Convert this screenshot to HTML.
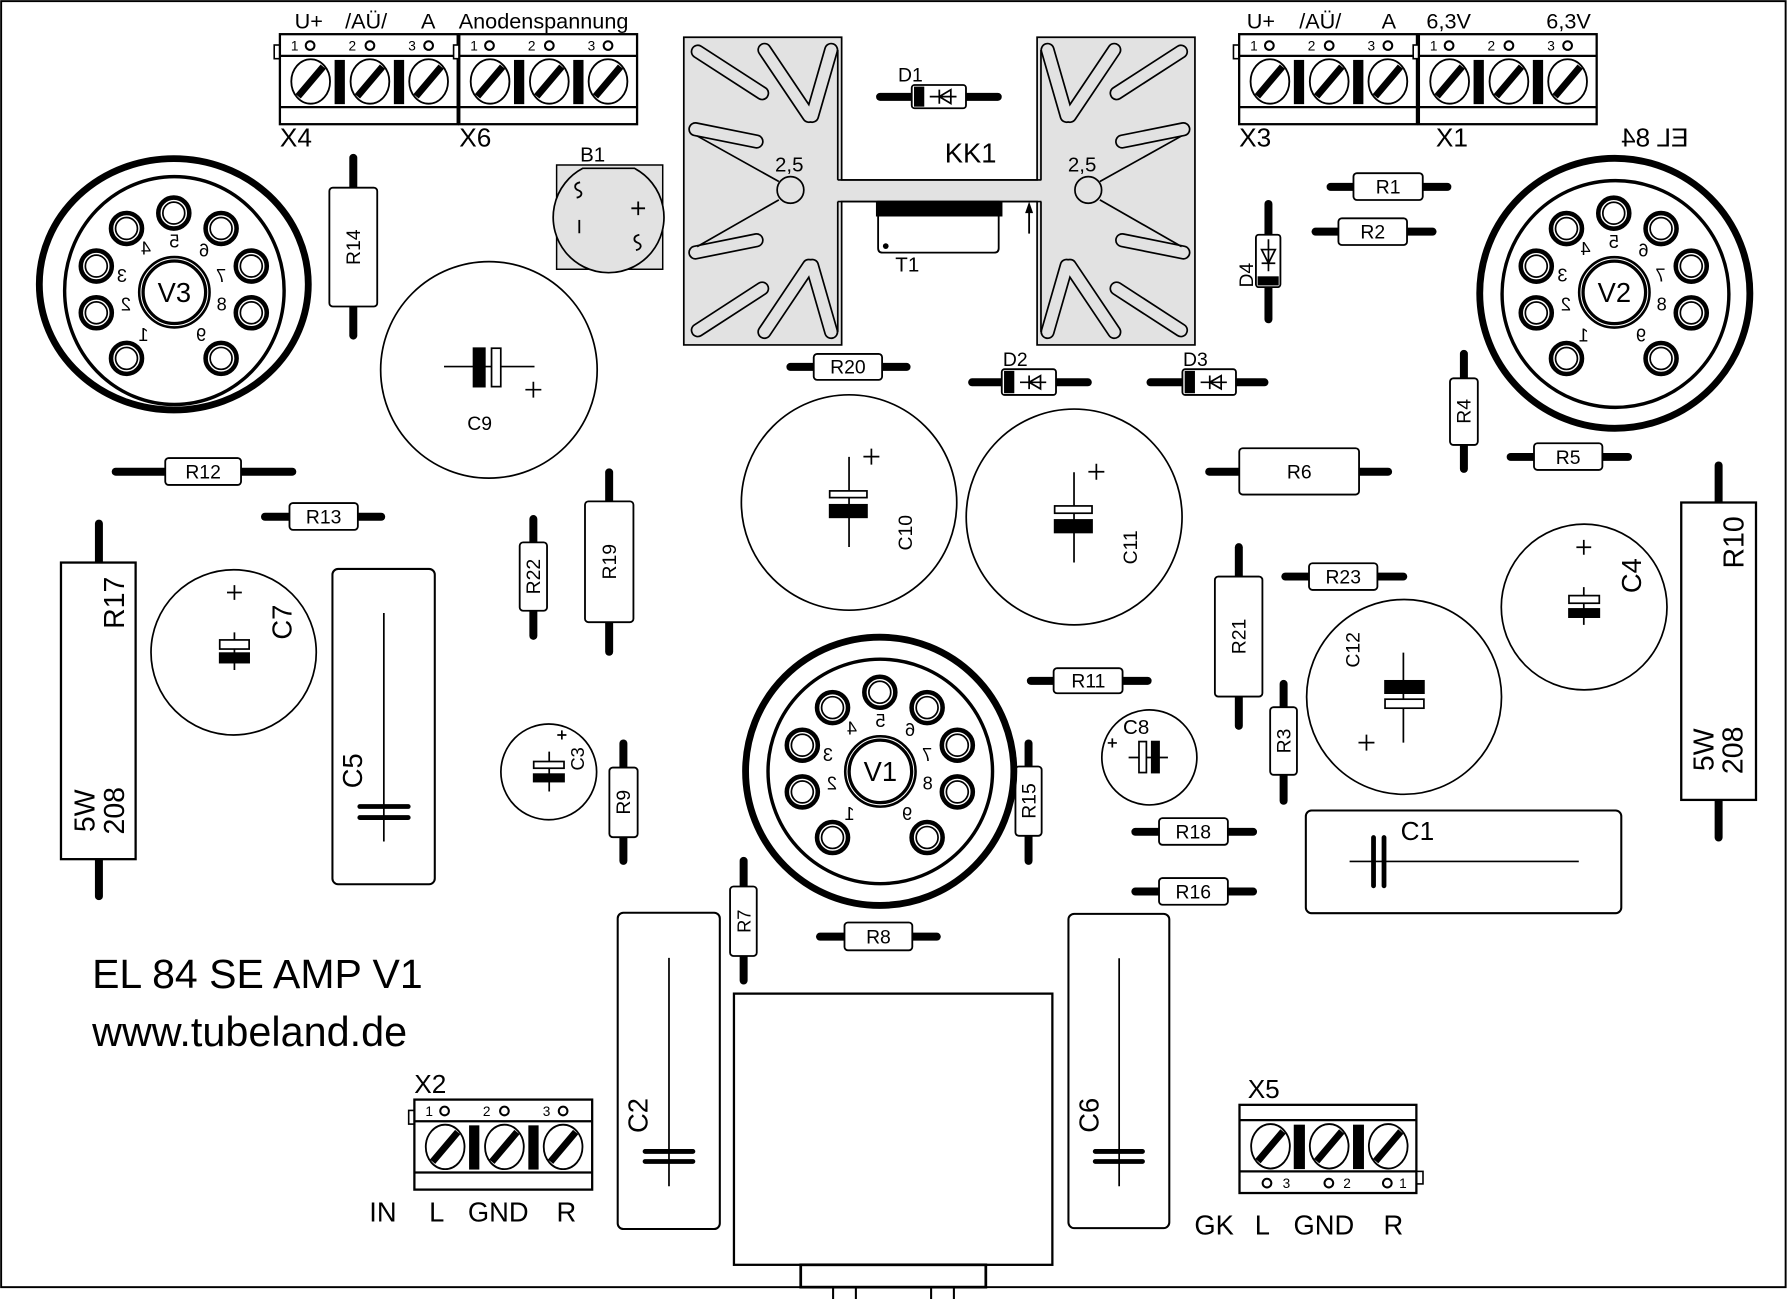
<!DOCTYPE html>
<html><head><meta charset="utf-8"><style>
html,body{margin:0;padding:0;background:#fff;width:1787px;height:1299px;overflow:hidden}
svg{display:block}
text{font-family:"Liberation Sans",Arial,sans-serif;fill:#000}
</style></head><body>
<svg xmlns="http://www.w3.org/2000/svg" width="1787" height="1299" viewBox="0 0 1568 1140" preserveAspectRatio="none">
<defs>
 <g id="sc"><ellipse rx="17" ry="19.5" fill="#fff" stroke="#000" stroke-width="1.6"/><line x1="-11" y1="13" x2="11" y2="-13" stroke="#000" stroke-width="6"/></g>
 <g id="tb">
  <rect x="-5" y="9.5" width="5" height="12" fill="#fff" stroke="#000" stroke-width="1.4"/>
  <rect x="0" y="0" width="156" height="79" fill="#fff" stroke="#000" stroke-width="2"/>
  <path d="M0 19H156M0 64H156" stroke="#000" stroke-width="2"/>
  <circle cx="26.5" cy="10" r="3.8" fill="none" stroke="#000" stroke-width="1.8"/>
  <circle cx="79" cy="10" r="3.8" fill="none" stroke="#000" stroke-width="1.8"/>
  <circle cx="130.5" cy="10" r="3.8" fill="none" stroke="#000" stroke-width="1.8"/>
  <use href="#sc" x="27" y="41.5"/><use href="#sc" x="79" y="41.5"/><use href="#sc" x="130.5" y="41.5"/>
  <rect x="48" y="22.6" width="9" height="38.8"/><rect x="100" y="22.6" width="9" height="38.8"/>
 </g>
 <g id="tb2">
  <rect x="155.2" y="58.4" width="5.8" height="11" fill="#fff" stroke="#000" stroke-width="1.4"/>
  <rect x="0" y="0" width="155.2" height="77.4" fill="#fff" stroke="#000" stroke-width="2"/>
  <path d="M0 13.4H155.2M0 58.4H155.2" stroke="#000" stroke-width="2"/>
  <circle cx="24.1" cy="68.7" r="3.8" fill="none" stroke="#000" stroke-width="1.8"/>
  <circle cx="78.4" cy="68.7" r="3.8" fill="none" stroke="#000" stroke-width="1.8"/>
  <circle cx="129.7" cy="68.7" r="3.8" fill="none" stroke="#000" stroke-width="1.8"/>
  <use href="#sc" x="27.2" y="36.4"/><use href="#sc" x="78.7" y="36.4"/><use href="#sc" x="130.5" y="36.4"/>
  <rect x="47.6" y="17.4" width="9.8" height="39"/><rect x="99.6" y="17.4" width="9.6" height="39"/>
 </g>
 <g id="pn"><circle r="13.6" fill="#fff" stroke="#000" stroke-width="4"/><circle r="9.6" fill="none" stroke="#000" stroke-width="1.5"/></g>
 <g id="fins">
  <g stroke="#000" stroke-width="12.6" stroke-linecap="round">
   <line x1="12.3" y1="12.6" x2="68.7" y2="49.1"/>
   <line x1="70.8" y1="11.1" x2="109.7" y2="69"/>
   <line x1="129.3" y1="11.1" x2="112.6" y2="69"/>
   <line x1="10.2" y1="80.7" x2="63.8" y2="91.5"/>
   <line x1="10.2" y1="188.9" x2="63.8" y2="178.1"/>
   <line x1="12.3" y1="257.1" x2="68.7" y2="220.5"/>
   <line x1="70.8" y1="258.6" x2="109.7" y2="200.6"/>
   <line x1="129.3" y1="258.6" x2="112.6" y2="200.6"/>
  </g>
  <g stroke="#e2e2e2" stroke-width="9.6" stroke-linecap="round">
   <line x1="12.3" y1="12.6" x2="68.7" y2="49.1"/>
   <line x1="70.8" y1="11.1" x2="109.7" y2="69"/>
   <line x1="129.3" y1="11.1" x2="112.6" y2="69"/>
   <line x1="10.2" y1="80.7" x2="63.8" y2="91.5"/>
   <line x1="10.2" y1="188.9" x2="63.8" y2="178.1"/>
   <line x1="12.3" y1="257.1" x2="68.7" y2="220.5"/>
   <line x1="70.8" y1="258.6" x2="109.7" y2="200.6"/>
   <line x1="129.3" y1="258.6" x2="112.6" y2="200.6"/>
  </g>
  <g stroke="#000" stroke-width="1.5" fill="none">
   <line x1="11.7" y1="86.6" x2="83.4" y2="126.6"/>
   <line x1="11.7" y1="183.7" x2="83.4" y2="142.7"/>
   <path d="M135.1 11.1V125.2M135.1 144.2V258.6"/>
  </g>
  <circle cx="93.6" cy="134" r="11.7" fill="#e2e2e2" stroke="#000" stroke-width="1.5"/>
 </g>
</defs>

<!-- border -->
<rect x="1" y="1" width="1565.8" height="1128.6" fill="none" stroke="#000" stroke-width="1.7"/>

<!-- top terminal blocks -->
<use href="#tb" x="245.6" y="30"/>
<use href="#tb" x="403" y="30"/>
<use href="#tb" x="1087.3" y="30"/>
<use href="#tb" x="1245" y="30"/>
<g font-size="12" text-anchor="middle">
 <text x="258.6" y="44.5">1</text><text x="309.1" y="44.5">2</text><text x="361.6" y="44.5">3</text>
 <text x="416" y="44.5">1</text><text x="466.5" y="44.5">2</text><text x="519" y="44.5">3</text>
 <text x="1100.3" y="44.5">1</text><text x="1150.8" y="44.5">2</text><text x="1203.3" y="44.5">3</text>
 <text x="1258" y="44.5">1</text><text x="1308.5" y="44.5">2</text><text x="1361" y="44.5">3</text>
</g>
<g font-size="19">
 <text x="258.5" y="24.9">U+</text><text x="302.8" y="24.9">/AÜ/</text><text x="369.4" y="24.9">A</text>
 <text x="402.5" y="24.9">Anodenspannung</text>
 <text x="1094" y="24.9">U+</text><text x="1140" y="24.9">/AÜ/</text><text x="1212.3" y="24.9">A</text>
 <text x="1251.6" y="24.9">6,3V</text><text x="1356.8" y="24.9">6,3V</text>
</g>
<g font-size="23">
 <text x="245.6" y="128.7">X4</text><text x="403" y="128.7">X6</text>
 <text x="1087.3" y="128.7">X3</text><text x="1259.9" y="128.7">X1</text>
</g>

<!-- bottom terminal blocks -->
<use href="#tb" x="363.6" y="965"/>
<g font-size="12" text-anchor="middle">
 <text x="376.6" y="979.5">1</text><text x="427.1" y="979.5">2</text><text x="479.6" y="979.5">3</text>
</g>
<use href="#tb2" x="1087.6" y="969.6"/>
<g font-size="12" text-anchor="middle">
 <text x="1128.8" y="1042.6">3</text><text x="1182" y="1042.6">2</text><text x="1231" y="1042.6">1</text>
</g>
<g font-size="23">
 <text x="363.5" y="959">X2</text><text x="1094.8" y="963.6">X5</text>
</g>
<g font-size="24">
 <text x="324" y="1072">IN</text><text x="376.5" y="1072">L</text><text x="410.5" y="1072">GND</text><text x="488.3" y="1072">R</text>
 <text x="1048" y="1083.6">GK</text><text x="1101" y="1083.6">L</text><text x="1135" y="1083.6">GND</text><text x="1214" y="1083.6">R</text>
</g>

<!-- titles -->
<text x="80.8" y="867" font-size="36">EL 84 SE AMP V1</text>
<text x="80.8" y="918" font-size="36.3">www.tubeland.de</text>

<!-- heatsink KK1 -->
<path d="M600 32.7H738.5V157.9H910V32.7H1048.5V302.7H910V176.9H738.5V302.7H600Z" fill="#e2e2e2" stroke="#000" stroke-width="1.5"/>
<use href="#fins" transform="translate(600,32.7)"/>
<use href="#fins" transform="translate(1048.5,32.7) scale(-1,1)"/>
<path d="M735 157.9H913.8M735 176.9H913.8" stroke="#000" stroke-width="1.5"/>
<text x="680" y="150.6" font-size="18">2,5</text>
<text x="937" y="150.6" font-size="18">2,5</text>
<text x="829" y="142.4" font-size="24">KK1</text>
<!-- T1 -->
<path d="M770.5 177H876.3V217.7Q876.3 221.7 872.3 221.7H774.5Q770.5 221.7 770.5 217.7Z" fill="#fff" stroke="#000" stroke-width="1.6"/>
<rect x="768.6" y="177" width="111" height="13"/>
<circle cx="777.2" cy="216" r="2.5"/>
<line x1="903" y1="205" x2="903" y2="184" stroke="#000" stroke-width="1.6"/>
<path d="M903 177L899.5 187H906.5Z"/>
<text x="785.6" y="238.4" font-size="18">T1</text>

<!-- B1 -->
<rect x="488.4" y="144.8" width="93.1" height="91.5" fill="#e2e2e2" stroke="#000" stroke-width="1.3"/>
<path d="M511.4 147.7H556.6A48.6 48.6 0 1 1 511.4 147.7Z" fill="#e2e2e2" stroke="#000" stroke-width="1.5"/>
<g stroke="#000" stroke-width="1.6" fill="none">
 <path d="M509 160C503.5 161 503.5 165.5 507.5 167C511.5 168.5 511 172.5 506 173.5"/>
 <path d="M561 206C555.5 207 555.5 211.5 559.5 213C563.5 214.5 563 218.5 558 219.5"/>
 <line x1="508.3" y1="193" x2="508.3" y2="204.7"/>
 <path d="M554 182.8H566M560 176.8V188.8"/>
</g>
<text x="509" y="141.9" font-size="18">B1</text>

<!-- diodes -->
<g stroke="#000" stroke-width="7" stroke-linecap="round">
 <line x1="772.2" y1="85" x2="875.5" y2="85"/>
 <line x1="853" y1="335.5" x2="954.5" y2="335.5"/>
 <line x1="1009.5" y1="335.5" x2="1109.5" y2="335.5"/>
 <line x1="1113" y1="179" x2="1113" y2="280.2"/>
</g>
<g fill="#fff" stroke="#000" stroke-width="1.6">
 <rect x="800" y="74.6" width="47.6" height="20.4" rx="2.5"/>
 <rect x="879" y="324" width="47.6" height="22.6" rx="2.5"/>
 <rect x="1037.5" y="324" width="47" height="22.6" rx="2.5"/>
 <rect x="1102" y="206" width="21.5" height="46" rx="2.5"/>
</g>
<rect x="802" y="76" width="9" height="17.6"/>
<rect x="881" y="325.5" width="9" height="19.6"/>
<rect x="1039.5" y="325.5" width="9" height="19.6"/>
<rect x="1103.5" y="242.5" width="18.5" height="8"/>
<g stroke="#000" stroke-width="1.5" fill="none">
 <path d="M815.8 84.8H839.3M824.2 78.6V91M824.2 84.8L834.3 78.8V90.8Z"/>
 <path d="M895 335.5H918M903 329.5V341.5M903 335.5L913 329.7V341.3Z"/>
 <path d="M1053.5 335.5H1076.5M1061.5 329.5V341.5M1061.5 335.5L1071.5 329.7V341.3Z"/>
 <path d="M1113 210V238M1107 219H1119L1113 231ZM1107 231H1119"/>
</g>
<g font-size="17">
 <text x="788" y="71.7">D1</text><text x="880" y="321">D2</text><text x="1038" y="321">D3</text>
 <text transform="translate(1093.5,241.5) rotate(-90)" y="6" text-anchor="middle">D4</text>
</g>

<!-- resistor leads -->
<g stroke="#000" stroke-width="7" stroke-linecap="round">
 <line x1="693.5" y1="322" x2="795.5" y2="322"/>
 <line x1="101.5" y1="414" x2="256.5" y2="414"/>
 <line x1="232.5" y1="453.5" x2="334.5" y2="453.5"/>
 <line x1="1167.5" y1="164" x2="1270" y2="164"/>
 <line x1="1154.3" y1="203.3" x2="1257" y2="203.3"/>
 <line x1="1325.5" y1="401" x2="1428.5" y2="401"/>
 <line x1="1061" y1="414" x2="1218" y2="414"/>
 <line x1="904.5" y1="597.5" x2="1007" y2="597.5"/>
 <line x1="996.2" y1="730" x2="1099.5" y2="730"/>
 <line x1="996.2" y1="782.4" x2="1099.5" y2="782.4"/>
 <line x1="1127.8" y1="506" x2="1231.3" y2="506"/>
 <line x1="719.5" y1="822" x2="822" y2="822"/>
 <line x1="310" y1="138.5" x2="310" y2="294.5"/>
 <line x1="534.5" y1="414.5" x2="534.5" y2="572"/>
 <line x1="468" y1="455.5" x2="468" y2="558"/>
 <line x1="547" y1="652.5" x2="547" y2="755.5"/>
 <line x1="902.5" y1="652.5" x2="902.5" y2="755.5"/>
 <line x1="1284.5" y1="310.5" x2="1284.5" y2="411.5"/>
 <line x1="1126.3" y1="600.2" x2="1126.3" y2="702.8"/>
 <line x1="1087" y1="480.2" x2="1087" y2="637"/>
 <line x1="652.5" y1="755.5" x2="652.5" y2="860.5"/>
 <line x1="86.8" y1="459.5" x2="86.8" y2="786.5"/>
 <line x1="1508" y1="408.5" x2="1508" y2="735"/>
</g>
<!-- resistor bodies -->
<g fill="#fff" stroke="#000" stroke-width="1.6">
 <rect x="714" y="310.6" width="60" height="22.8" rx="3"/>
 <rect x="145" y="402" width="66.5" height="23.6" rx="3"/>
 <rect x="254" y="441.5" width="60" height="23.5" rx="3"/>
 <rect x="1187.6" y="152" width="60.8" height="23.5" rx="3"/>
 <rect x="1174.4" y="191.6" width="60.2" height="23.4" rx="3"/>
 <rect x="1346" y="389" width="60" height="23.4" rx="3"/>
 <rect x="1087.4" y="393.4" width="105.1" height="40.6" rx="3"/>
 <rect x="924.5" y="586.4" width="60.5" height="22" rx="3"/>
 <rect x="1017" y="718" width="60.4" height="23.4" rx="3"/>
 <rect x="1017" y="770.6" width="60.4" height="23.4" rx="3"/>
 <rect x="1148.6" y="494.3" width="60" height="23.4" rx="3"/>
 <rect x="741" y="809.6" width="59.5" height="24.4" rx="3"/>
 <rect x="289" y="164.7" width="42" height="104.3" rx="3"/>
 <rect x="513.3" y="440" width="42.5" height="106" rx="3"/>
 <rect x="456" y="476" width="24" height="60" rx="3"/>
 <rect x="534.7" y="673.6" width="24.8" height="61.1" rx="3"/>
 <rect x="891" y="672.7" width="23" height="60.8" rx="3"/>
 <rect x="1272.3" y="332" width="24.4" height="58.5" rx="3"/>
 <rect x="1114.5" y="620.6" width="23.5" height="59.4" rx="3"/>
 <rect x="1066" y="506" width="41.7" height="105.3" rx="3"/>
 <rect x="640.6" y="778" width="23.4" height="61" rx="3"/>
 <rect x="53.5" y="493.7" width="65.5" height="260.3" stroke-width="2"/>
 <rect x="1475.2" y="441" width="65.6" height="261" stroke-width="2"/>
</g>
<g font-size="17" text-anchor="middle">
 <text x="744" y="328">R20</text>
 <text x="178.2" y="420">R12</text>
 <text x="284" y="459.5">R13</text>
 <text x="1218" y="170">R1</text>
 <text x="1204.5" y="209.3">R2</text>
 <text x="1376" y="407">R5</text>
 <text x="1140" y="420">R6</text>
 <text x="955" y="603.5">R11</text>
 <text x="1047" y="736">R18</text>
 <text x="1047" y="788.4">R16</text>
 <text x="1178.6" y="512">R23</text>
 <text x="770.8" y="828">R8</text>
 <text transform="translate(310,217) rotate(-90)" y="6">R14</text>
 <text transform="translate(534.5,493) rotate(-90)" y="6">R19</text>
 <text transform="translate(468,506) rotate(-90)" y="6">R22</text>
 <text transform="translate(547,704) rotate(-90)" y="6">R9</text>
 <text transform="translate(902.5,703) rotate(-90)" y="6">R15</text>
 <text transform="translate(1284.5,361) rotate(-90)" y="6">R4</text>
 <text transform="translate(1126.3,650.3) rotate(-90)" y="6">R3</text>
 <text transform="translate(1087,558.6) rotate(-90)" y="6">R21</text>
 <text transform="translate(652.5,808.5) rotate(-90)" y="6" font-size="16">R7</text>
</g>
<g font-size="25" text-anchor="middle">
 <text transform="translate(99.8,529) rotate(-90)" y="9">R17</text>
 <text transform="translate(73.8,711.5) rotate(-90)" y="9">5W</text>
 <text transform="translate(99.8,711.5) rotate(-90)" y="9">208</text>
 <text transform="translate(1521,476) rotate(-90)" y="9">R10</text>
 <text transform="translate(1494.7,658) rotate(-90)" y="9">5W</text>
 <text transform="translate(1520,658.5) rotate(-90)" y="9">208</text>
</g>

<!-- electrolytic capacitors -->
<g fill="none" stroke="#000" stroke-width="1.5">
 <circle cx="429" cy="324.6" r="95"/>
 <circle cx="745" cy="441" r="94.5"/>
 <circle cx="942.5" cy="453.7" r="94.7"/>
 <circle cx="205" cy="572.5" r="72.5"/>
 <circle cx="1390" cy="532.7" r="72.7"/>
 <circle cx="481.5" cy="677.4" r="42"/>
 <circle cx="1232" cy="611.6" r="85.5"/>
 <circle cx="1008.5" cy="664.7" r="41.7"/>
 <path d="M389.6 321.7H469"/>
 <path d="M745 401V480M942.4 414.4V493.7M205.7 555V588M1389.7 515.3V548.4M481.9 659.6V694.6M1231.4 572.7V651.7M990.3 664.8H1024.8"/>
 <path d="M461 342H475M468 335V349"/>
 <path d="M757.6 400.7H771.6M764.6 393.7V407.7"/>
 <path d="M955 414H969M962 407V421"/>
 <path d="M199.2 520H212.2M205.7 513.5V526.5"/>
 <path d="M1383.2 480.3H1396.2M1389.7 473.8V486.8"/>
 <path d="M489 645H497M493 641V649"/>
 <path d="M1192 651.7H1206M1199 644.7V658.7"/>
 <path d="M972 652H980M976 648V656"/>
</g>
<g stroke="#000" stroke-width="1.5">
 <rect x="415.5" y="305.6" width="9.9" height="33.7"/>
 <rect x="431.3" y="305.6" width="8.1" height="33.7" fill="#fff"/>
 <rect x="728" y="430.8" width="32.7" height="5.9" fill="#fff"/>
 <rect x="728" y="443" width="32.7" height="11"/>
 <rect x="925.4" y="444" width="32.8" height="6.4" fill="#fff"/>
 <rect x="925.4" y="456.3" width="32.8" height="11"/>
 <rect x="192.8" y="561.6" width="25.8" height="8" fill="#fff"/>
 <rect x="192.8" y="573.2" width="25.8" height="8.3"/>
 <rect x="1376.7" y="522.7" width="26.6" height="6.7" fill="#fff"/>
 <rect x="1376.7" y="534.4" width="26.6" height="7.2"/>
 <rect x="468.3" y="668.3" width="26.6" height="5.9" fill="#fff"/>
 <rect x="468.3" y="679.4" width="26.6" height="6.5"/>
 <rect x="1215.3" y="597.5" width="34.1" height="10.8"/>
 <rect x="1215.3" y="613.6" width="34.1" height="7.9" fill="#fff"/>
 <rect x="999.4" y="650.8" width="6.5" height="27.2" fill="#fff"/>
 <rect x="1010.6" y="650.8" width="6.4" height="27.2"/>
</g>
<text x="410" y="377.3" font-size="17">C9</text>
<text x="985.4" y="644" font-size="18">C8</text>
<g font-size="17" text-anchor="middle">
 <text transform="translate(794.3,467.5) rotate(-90)" y="6">C10</text>
 <text transform="translate(991.7,480.4) rotate(-90)" y="6">C11</text>
 <text transform="translate(1187,570.3) rotate(-90)" y="6">C12</text>
 <text transform="translate(506.9,666) rotate(-90)" y="5.5" font-size="16">C3</text>
</g>

<!-- film capacitors -->
<g fill="#fff" stroke="#000" stroke-width="1.8">
 <rect x="291.7" y="499.3" width="89.8" height="276.7" rx="5"/>
 <rect x="542" y="801" width="89.6" height="277.6" rx="5"/>
 <rect x="937.5" y="802" width="88.5" height="275.8" rx="5"/>
 <rect x="1145.8" y="711.3" width="276.8" height="90.1" rx="5"/>
</g>
<g stroke="#000" stroke-width="1.5" fill="none">
 <path d="M336.8 538V738.5M587 840.6V1041M982 841V1041M1184.2 756H1385.3"/>
</g>
<g stroke="#000" stroke-width="4.2" stroke-linecap="round">
 <path d="M315.7 707.8H358.2M315.7 717.5H358.2"/>
 <path d="M566 1010.5H608M566 1019.3H608"/>
 <path d="M961 1010.5H1002.5M961 1019.3H1002.5"/>
 <path d="M1205.2 735V777.4M1214.4 735V777.4"/>
</g>
<text x="1229" y="737" font-size="23">C1</text>
<g font-size="24" text-anchor="middle">
 <text transform="translate(247.4,546) rotate(-90)" y="8.5">C7</text>
 <text transform="translate(1431.6,505.2) rotate(-90)" y="8.5">C4</text>
 <text transform="translate(309.3,676.4) rotate(-90)" y="8.5">C5</text>
 <text transform="translate(559.5,979) rotate(-90)" y="8.5">C2</text>
 <text transform="translate(955.5,978.8) rotate(-90)" y="8.5">C6</text>
</g>

<!-- transformer -->
<rect x="644" y="872" width="279.4" height="238" fill="#fff" stroke="#000" stroke-width="2"/>
<rect x="702.6" y="1110" width="162.4" height="19.6" fill="#fff" stroke="#000" stroke-width="2.4"/>
<path d="M731 1130V1140M751 1130V1140M817 1130V1140M837 1130V1140" stroke="#000" stroke-width="1.8"/>

<!-- tube V3 -->
<ellipse cx="152.5" cy="249.5" rx="118" ry="110.3" fill="none" stroke="#000" stroke-width="6"/>
<ellipse cx="153" cy="255" rx="96.3" ry="100" fill="none" stroke="#000" stroke-width="3"/>
<circle cx="153" cy="256.5" r="29" fill="none" stroke="#000" stroke-width="6"/>
<circle cx="153" cy="256.5" r="29.3" fill="none" stroke="#fff" stroke-width="0.9"/>
<use href="#pn" x="152.5" y="187"/><use href="#pn" x="111" y="200.5"/><use href="#pn" x="194" y="200.5"/>
<use href="#pn" x="84.5" y="233.5"/><use href="#pn" x="220.5" y="233.5"/><use href="#pn" x="84.5" y="274.5"/>
<use href="#pn" x="220.5" y="274.5"/><use href="#pn" x="111" y="314.5"/><use href="#pn" x="194" y="314.5"/>
<text x="153" y="265" font-size="24" text-anchor="middle">V3</text>
<g font-size="16" text-anchor="middle">
 <text transform="translate(128,217.5) scale(-1,1)" y="5.8">4</text>
 <text transform="translate(153,211.5) scale(-1,1)" y="5.8">5</text>
 <text transform="translate(179,219.5) scale(-1,1)" y="5.8">6</text>
 <text transform="translate(107,241.5) scale(-1,1)" y="5.8">3</text>
 <text transform="translate(194,241.5) scale(-1,1)" y="5.8">7</text>
 <text transform="translate(110.5,266.5) scale(-1,1)" y="5.8">2</text>
 <text transform="translate(194.5,266.5) scale(-1,1)" y="5.8">8</text>
 <text transform="translate(126,293.5) scale(-1,1)" y="5.8">1</text>
 <text transform="translate(176.5,293.5) scale(-1,1)" y="5.8">9</text>
</g>

<!-- tube V2 -->
<circle cx="1416.9" cy="257.4" r="118.5" fill="none" stroke="#000" stroke-width="6"/>
<circle cx="1417.5" cy="258" r="99.5" fill="none" stroke="#000" stroke-width="3"/>
<circle cx="1416.5" cy="256.6" r="29" fill="none" stroke="#000" stroke-width="6"/>
<circle cx="1416.5" cy="256.6" r="29.3" fill="none" stroke="#fff" stroke-width="0.9"/>
<use href="#pn" x="1416" y="187.1"/><use href="#pn" x="1374.5" y="200.6"/><use href="#pn" x="1457.5" y="200.6"/>
<use href="#pn" x="1348" y="233.6"/><use href="#pn" x="1484" y="233.6"/><use href="#pn" x="1348" y="274.6"/>
<use href="#pn" x="1484" y="274.6"/><use href="#pn" x="1374.5" y="314.6"/><use href="#pn" x="1457.5" y="314.6"/>
<text x="1416.5" y="265.1" font-size="24" text-anchor="middle">V2</text>
<g font-size="16" text-anchor="middle">
 <text transform="translate(1391.3,217.9) scale(-1,1)" y="5.8">4</text>
 <text transform="translate(1416,212) scale(-1,1)" y="5.8">5</text>
 <text transform="translate(1442,219.4) scale(-1,1)" y="5.8">6</text>
 <text transform="translate(1371,241.3) scale(-1,1)" y="5.8">3</text>
 <text transform="translate(1457,241.3) scale(-1,1)" y="5.8">7</text>
 <text transform="translate(1374,266.7) scale(-1,1)" y="5.8">2</text>
 <text transform="translate(1458,266.7) scale(-1,1)" y="5.8">8</text>
 <text transform="translate(1389.6,294) scale(-1,1)" y="5.8">1</text>
 <text transform="translate(1440,294) scale(-1,1)" y="5.8">9</text>
</g>
<text transform="translate(1481.6,128.7) scale(-1,1)" font-size="23">EL 84</text>

<!-- tube V1 -->
<circle cx="771.9" cy="676.9" r="117.7" fill="none" stroke="#000" stroke-width="6"/>
<circle cx="772.4" cy="677" r="98.5" fill="none" stroke="#000" stroke-width="3"/>
<circle cx="772.5" cy="677" r="29" fill="none" stroke="#000" stroke-width="6"/>
<circle cx="772.5" cy="677" r="29.3" fill="none" stroke="#fff" stroke-width="0.9"/>
<use href="#pn" x="772" y="607.5"/><use href="#pn" x="730.5" y="621"/><use href="#pn" x="813.5" y="621"/>
<use href="#pn" x="704" y="654"/><use href="#pn" x="840" y="654"/><use href="#pn" x="704" y="695"/>
<use href="#pn" x="840" y="695"/><use href="#pn" x="730.5" y="735"/><use href="#pn" x="813.5" y="735"/>
<text x="772.5" y="685.5" font-size="24" text-anchor="middle">V1</text>
<g font-size="16" text-anchor="middle">
 <text transform="translate(747.5,639) scale(-1,1)" y="5.8">4</text>
 <text transform="translate(772.5,632) scale(-1,1)" y="5.8">5</text>
 <text transform="translate(798.5,640) scale(-1,1)" y="5.8">6</text>
 <text transform="translate(726.5,662) scale(-1,1)" y="5.8">3</text>
 <text transform="translate(813.5,662) scale(-1,1)" y="5.8">7</text>
 <text transform="translate(730,687) scale(-1,1)" y="5.8">2</text>
 <text transform="translate(814,687) scale(-1,1)" y="5.8">8</text>
 <text transform="translate(745.5,714) scale(-1,1)" y="5.8">1</text>
 <text transform="translate(796,714) scale(-1,1)" y="5.8">9</text>
</g>
</svg>
</body></html>
